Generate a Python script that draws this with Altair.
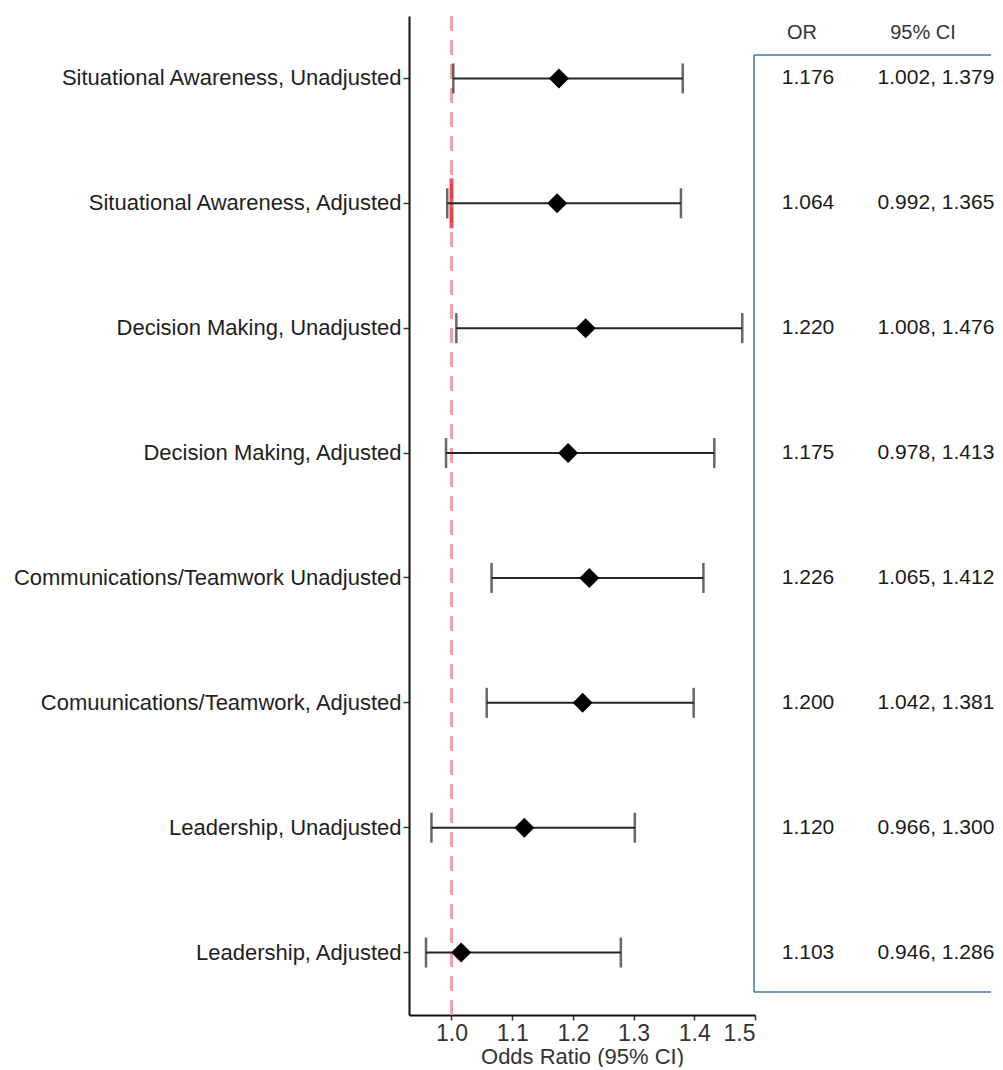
import altair as alt
import pandas as pd

labels = [
    "Situational Awareness, Unadjusted",
    "Situational Awareness, Adjusted",
    "Decision Making, Unadjusted",
    "Decision Making, Adjusted",
    "Communications/Teamwork Unadjusted",
    "Comuunications/Teamwork, Adjusted",
    "Leadership, Unadjusted",
    "Leadership, Adjusted",
]
# plotted values
est = [1.177, 1.174, 1.221, 1.192, 1.227, 1.216, 1.120, 1.016]
lo = [1.003, 0.993, 1.008, 0.991, 1.066, 1.058, 0.967, 0.958]
hi = [1.381, 1.378, 1.479, 1.433, 1.415, 1.399, 1.302, 1.279]
# table text
or_text = ["1.176", "1.064", "1.220", "1.175", "1.226", "1.200", "1.120", "1.103"]
ci_text = ["1.002, 1.379", "0.992, 1.365", "1.008, 1.476", "0.978, 1.413",
           "1.065, 1.412", "1.042, 1.381", "0.966, 1.300", "0.946, 1.286"]
x_ticks = [1.0, 1.1, 1.2, 1.3, 1.4, 1.5]
ref_value = [1.0]
highlight_row = ["Situational Awareness, Adjusted"]

FONT = "Liberation Sans"
df = pd.DataFrame({"label": labels, "est": est, "lo": lo, "hi": hi,
                   "or_text": or_text, "ci_text": ci_text})
ref_df = pd.DataFrame({"v": ref_value})
hl_df = pd.DataFrame({"v": ref_value, "label": highlight_row})

W_PLOT, H = 346, 999
yscale = alt.Scale(type="band", domain=labels, paddingInner=0, paddingOuter=0)
xscale = alt.Scale(domain=[0.93, 1.5], nice=False, zero=False)

y_axis = alt.Axis(title=None, labelFontSize=22, labelFont=FONT, labelColor="#1e1e1e",
                  labelPadding=2, tickSize=6, tickWidth=1.5, tickColor="#333",
                  domainColor="#111", domainWidth=2, labelLimit=600, grid=False)
x_axis = alt.Axis(title="Odds Ratio (95% CI)", values=x_ticks, format=".1f",
                  labelFontSize=23, labelFont=FONT, labelColor="#333", labelPadding=2,
                  tickSize=5, tickWidth=1.5, tickColor="#333", domainColor="#111",
                  domainWidth=2, titleFontSize=22, titleFont=FONT,
                  titleFontWeight="normal", titleColor="#333", titlePadding=1, grid=False)

Y = alt.Y("label:N", scale=yscale, sort=labels, axis=y_axis)

ref = alt.Chart(ref_df).mark_rule(color="#f4a0a6", strokeWidth=3, strokeDash=[15, 9]).encode(
    x=alt.X("v:Q", scale=xscale, axis=x_axis)
)
hl = alt.Chart(hl_df).mark_tick(color="#e3141e", thickness=4, size=50).encode(
    x=alt.X("v:Q", scale=xscale), y=Y
)
bars = alt.Chart(df).mark_rule(color="#262626", strokeWidth=2).encode(
    x=alt.X("lo:Q", scale=xscale, axis=x_axis), x2="hi:Q", y=Y
)
cap_lo = alt.Chart(df).mark_tick(color="#262626", thickness=2.5, size=30).encode(
    x=alt.X("lo:Q", scale=xscale), y=Y
)
cap_hi = alt.Chart(df).mark_tick(color="#262626", thickness=2.5, size=30).encode(
    x=alt.X("hi:Q", scale=xscale), y=Y
)
pts = alt.Chart(df).mark_point(shape="diamond", filled=True, color="#000", size=400, opacity=1).encode(
    x=alt.X("est:Q", scale=xscale), y=Y
)

left = alt.layer(ref, hl, bars, cap_lo, cap_hi, pts).properties(width=W_PLOT, height=H)

# table panel
W_TAB = 236
Yt = alt.Y("label:N", scale=yscale, sort=labels, axis=None)
box_color = "#4d70a8"
box_top = alt.Chart(ref_df).mark_rule(color=box_color, strokeWidth=1.5).encode(
    x=alt.value(-1), x2=alt.value(W_TAB), y=alt.value(39))
box_bot = alt.Chart(ref_df).mark_rule(color=box_color, strokeWidth=1.5).encode(
    x=alt.value(-1), x2=alt.value(W_TAB), y=alt.value(976))
box_left = alt.Chart(ref_df).mark_rule(color=box_color, strokeWidth=1.5).encode(
    x=alt.value(-1), y=alt.value(39), y2=alt.value(976))

or_layer = alt.Chart(df).mark_text(font=FONT, fontSize=21, color="#1a1a1a", align="center",
                                   baseline="middle").encode(y=Yt, x=alt.value(53), text="or_text:N")
ci_layer = alt.Chart(df).mark_text(font=FONT, fontSize=21, color="#1a1a1a", align="center",
                                   baseline="middle").encode(y=Yt, x=alt.value(181), text="ci_text:N")
hdr_df = pd.DataFrame({"h": ["OR"]})
hdr_or = alt.Chart(hdr_df).mark_text(font=FONT, fontSize=20, color="#333", align="center",
                                     baseline="middle").encode(x=alt.value(47), y=alt.value(17), text=alt.value("OR"))
hdr_ci = alt.Chart(hdr_df).mark_text(font=FONT, fontSize=20, color="#333", align="center",
                                     baseline="middle").encode(x=alt.value(168), y=alt.value(17), text=alt.value("95% CI"))

right = alt.layer(box_top, box_bot, box_left, or_layer, ci_layer, hdr_or, hdr_ci).properties(
    width=W_TAB, height=H)

chart = alt.hconcat(left, right, spacing=0, bounds="flush").properties(
    padding={"left": 5, "top": 6, "right": 0, "bottom": 0}
).configure_view(stroke=None)

chart.save("out.html", embed_options={"renderer": "svg", "actions": False})
